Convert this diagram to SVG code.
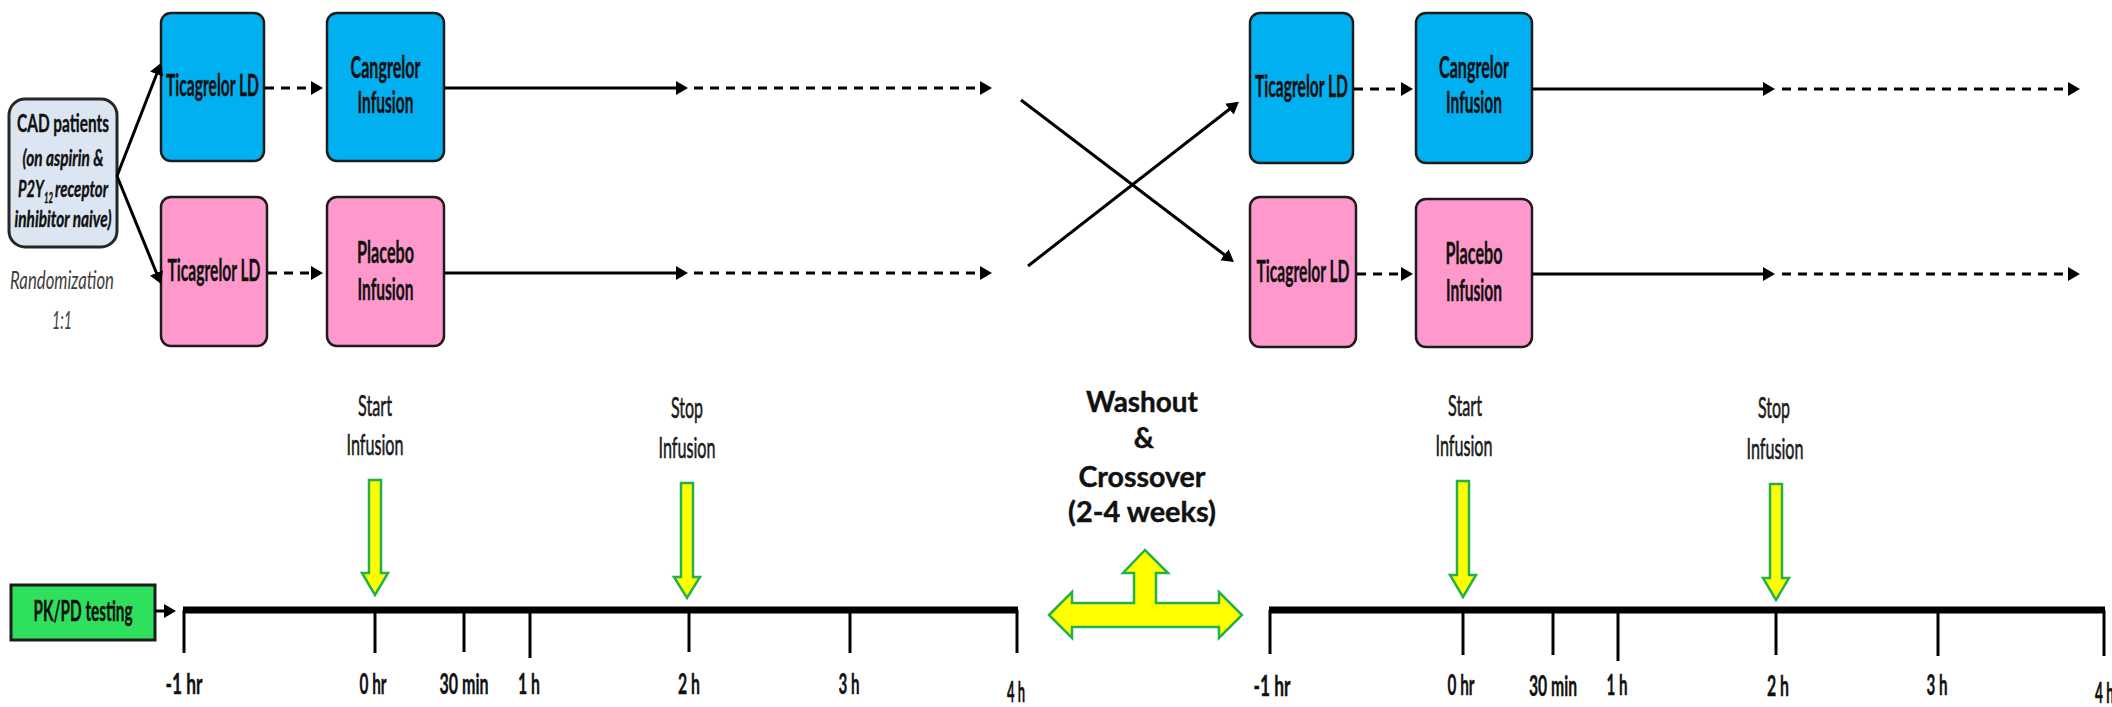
<svg xmlns="http://www.w3.org/2000/svg" width="2112" height="707" viewBox="0 0 2112 707">
  <style>
    .box { stroke: #1c1c1c; stroke-width: 2.5; }
    .blue { fill: #00b0f0; }
    .pink { fill: #ff99cc; }
    .lbl { font-family: Lato, "Liberation Sans", sans-serif; font-weight: bold; fill: #111; stroke: #111; stroke-width: 0.4; text-anchor: middle; }
    .reg { font-family: Lato, "Liberation Sans", sans-serif; font-weight: normal; fill: #1a1a1a; stroke: #1a1a1a; stroke-width: 0.6; text-anchor: middle; }
    .start { text-anchor: start; }
    .conn { stroke: #000; stroke-width: 3; fill: none; }
    .dash { stroke-dasharray: 9 7; }
    .axis { stroke: #000; stroke-width: 7; fill: none; }
    .tick { stroke: #000; stroke-width: 3; }
    .yellow { fill: #ffff00; stroke: #22b14c; stroke-width: 2.5; stroke-linejoin: miter; }
  </style>
  <defs>
    <marker id="head" viewBox="0 0 12 14" refX="2" refY="7" markerWidth="12" markerHeight="14" markerUnits="userSpaceOnUse" orient="auto">
      <path d="M0,0 L12,7 L0,14 z" fill="#000"/>
    </marker>
  </defs>

  <rect width="2112" height="707" fill="#fff"/>

  <!-- patient population -->
  <g id="cad-patients">
    <rect x="9" y="99" width="108" height="148" rx="16" fill="#dce6f2" stroke="#262626" stroke-width="3"/>
    <text class="lbl" x="63" y="132" font-size="25" textLength="92" lengthAdjust="spacingAndGlyphs">CAD patients</text>
    <text class="lbl" x="63" y="166" font-size="23" font-style="italic" textLength="81" lengthAdjust="spacingAndGlyphs">(on aspirin &amp;</text>
    <text class="lbl start" x="18" y="197" font-size="23" font-style="italic" textLength="26" lengthAdjust="spacingAndGlyphs">P2Y</text>
    <text class="lbl start" x="44" y="203" font-size="15" font-style="italic" textLength="9" lengthAdjust="spacingAndGlyphs">12</text>
    <text class="lbl start" x="55" y="197" font-size="23" font-style="italic" textLength="53" lengthAdjust="spacingAndGlyphs">receptor</text>
    <text class="lbl" x="63" y="227" font-size="23" font-style="italic" textLength="97" lengthAdjust="spacingAndGlyphs">inhibitor naive)</text>
  </g>
  <g id="randomization">
    <text class="reg" x="62" y="289" font-size="26" font-style="italic" textLength="104" lengthAdjust="spacingAndGlyphs" style="fill:#404040;stroke:none">Randomization</text>
    <text class="reg" x="62" y="329" font-size="26" font-style="italic" textLength="20" lengthAdjust="spacingAndGlyphs" style="fill:#404040;stroke:none">1:1</text>
  </g>

  <!-- period 1 treatment boxes -->
  <g id="p1-ticagrelor-a">
    <rect class="box blue" x="161" y="13" width="103" height="148" rx="10"/>
    <text class="lbl" x="212.5" y="96" font-size="30" textLength="93" lengthAdjust="spacingAndGlyphs">Ticagrelor LD</text>
  </g>
  <g id="p1-cangrelor">
    <rect class="box blue" x="327" y="13" width="117" height="148" rx="10"/>
    <text class="lbl" x="385.5" y="78" font-size="30" textLength="70" lengthAdjust="spacingAndGlyphs">Cangrelor</text>
    <text class="lbl" x="385.5" y="113" font-size="30" textLength="56" lengthAdjust="spacingAndGlyphs">Infusion</text>
  </g>
  <g id="p1-ticagrelor-b">
    <rect class="box pink" x="161" y="197" width="106" height="149" rx="10"/>
    <text class="lbl" x="214" y="281" font-size="30" textLength="93" lengthAdjust="spacingAndGlyphs">Ticagrelor LD</text>
  </g>
  <g id="p1-placebo">
    <rect class="box pink" x="327" y="197" width="117" height="149" rx="10"/>
    <text class="lbl" x="385.5" y="263" font-size="30" textLength="57" lengthAdjust="spacingAndGlyphs">Placebo</text>
    <text class="lbl" x="385.5" y="300" font-size="30" textLength="56" lengthAdjust="spacingAndGlyphs">Infusion</text>
  </g>

  <!-- period 2 treatment boxes -->
  <g id="p2-ticagrelor-a">
    <rect class="box blue" x="1250" y="13" width="103" height="150" rx="10"/>
    <text class="lbl" x="1301.5" y="97" font-size="30" textLength="93" lengthAdjust="spacingAndGlyphs">Ticagrelor LD</text>
  </g>
  <g id="p2-cangrelor">
    <rect class="box blue" x="1416" y="13" width="116" height="150" rx="10"/>
    <text class="lbl" x="1474" y="78" font-size="30" textLength="70" lengthAdjust="spacingAndGlyphs">Cangrelor</text>
    <text class="lbl" x="1474" y="113" font-size="30" textLength="56" lengthAdjust="spacingAndGlyphs">Infusion</text>
  </g>
  <g id="p2-ticagrelor-b">
    <rect class="box pink" x="1250" y="197" width="106" height="150" rx="10"/>
    <text class="lbl" x="1303" y="282" font-size="30" textLength="93" lengthAdjust="spacingAndGlyphs">Ticagrelor LD</text>
  </g>
  <g id="p2-placebo">
    <rect class="box pink" x="1416" y="199" width="116" height="148" rx="10"/>
    <text class="lbl" x="1474" y="264" font-size="30" textLength="57" lengthAdjust="spacingAndGlyphs">Placebo</text>
    <text class="lbl" x="1474" y="301" font-size="30" textLength="56" lengthAdjust="spacingAndGlyphs">Infusion</text>
  </g>

  <!-- PK/PD testing -->
  <g id="pkpd">
    <rect x="11" y="585" width="144" height="55" fill="#2ee05c" stroke="#1c1c1c" stroke-width="3"/>
    <text class="lbl" x="83" y="621" font-size="28" textLength="99" lengthAdjust="spacingAndGlyphs">PK/PD testing</text>
  </g>

  <!-- connectors -->
  <g id="connectors">
    <line class="conn" x1="117" y1="176" x2="157.4" y2="72.3" marker-end="url(#head)"/>
    <line class="conn" x1="117" y1="176" x2="157.2" y2="274.7" marker-end="url(#head)"/>

    <line class="conn dash" x1="265" y1="88" x2="313" y2="88" marker-end="url(#head)"/>
    <line class="conn" x1="444" y1="88" x2="678" y2="88" marker-end="url(#head)"/>
    <line class="conn dash" x1="694" y1="88" x2="982" y2="88" marker-end="url(#head)"/>

    <line class="conn dash" x1="268" y1="273" x2="313" y2="273" marker-end="url(#head)"/>
    <line class="conn" x1="444" y1="273" x2="678" y2="273" marker-end="url(#head)"/>
    <line class="conn dash" x1="694" y1="273" x2="982" y2="273" marker-end="url(#head)"/>

    <line class="conn" x1="1021" y1="100" x2="1226" y2="256" marker-end="url(#head)"/>
    <line class="conn" x1="1028" y1="266" x2="1231" y2="108" marker-end="url(#head)"/>

    <line class="conn dash" x1="1354" y1="89" x2="1403" y2="89" marker-end="url(#head)"/>
    <line class="conn" x1="1532" y1="89" x2="1765" y2="89" marker-end="url(#head)"/>
    <line class="conn dash" x1="1782" y1="89" x2="2070" y2="89" marker-end="url(#head)"/>

    <line class="conn dash" x1="1357" y1="274" x2="1403" y2="274" marker-end="url(#head)"/>
    <line class="conn" x1="1532" y1="274" x2="1765" y2="274" marker-end="url(#head)"/>
    <line class="conn dash" x1="1782" y1="274" x2="2070" y2="274" marker-end="url(#head)"/>

    <line class="conn" x1="155" y1="611" x2="166" y2="611" marker-end="url(#head)"/>
  </g>

  <!-- period 1 timeline -->
  <g id="timeline-1">
    <line class="axis" x1="183" y1="610" x2="1018" y2="610"/>
    <line class="tick" x1="184" y1="610" x2="184" y2="653"/>
    <line class="tick" x1="375" y1="610" x2="375" y2="653"/>
    <line class="tick" x1="464" y1="610" x2="464" y2="652"/>
    <line class="tick" x1="530" y1="610" x2="530" y2="658"/>
    <line class="tick" x1="689" y1="610" x2="689" y2="652"/>
    <line class="tick" x1="850" y1="610" x2="850" y2="653"/>
    <line class="tick" x1="1017" y1="610" x2="1017" y2="653"/>
    <text class="lbl" x="184" y="694" font-size="28" textLength="37" lengthAdjust="spacingAndGlyphs">-1 hr</text>
    <text class="lbl" x="373" y="694" font-size="28" textLength="27" lengthAdjust="spacingAndGlyphs">0 hr</text>
    <text class="lbl" x="464" y="694" font-size="28" textLength="49" lengthAdjust="spacingAndGlyphs">30 min</text>
    <text class="lbl" x="529" y="694" font-size="28" textLength="22" lengthAdjust="spacingAndGlyphs">1 h</text>
    <text class="lbl" x="689" y="694" font-size="28" textLength="22" lengthAdjust="spacingAndGlyphs">2 h</text>
    <text class="lbl" x="849" y="694" font-size="28" textLength="21" lengthAdjust="spacingAndGlyphs">3 h</text>
    <text class="lbl" x="1016" y="702" font-size="28" textLength="18" lengthAdjust="spacingAndGlyphs">4 h</text>
  </g>

  <!-- period 2 timeline -->
  <g id="timeline-2">
    <line class="axis" x1="1269" y1="610" x2="2105" y2="610"/>
    <line class="tick" x1="1270" y1="610" x2="1270" y2="654"/>
    <line class="tick" x1="1463" y1="610" x2="1463" y2="655"/>
    <line class="tick" x1="1553" y1="610" x2="1553" y2="655"/>
    <line class="tick" x1="1618" y1="610" x2="1618" y2="661"/>
    <line class="tick" x1="1776" y1="610" x2="1776" y2="655"/>
    <line class="tick" x1="1938" y1="610" x2="1938" y2="656"/>
    <line class="tick" x1="2104" y1="610" x2="2104" y2="656"/>
    <text class="lbl" x="1272" y="696" font-size="28" textLength="37" lengthAdjust="spacingAndGlyphs">-1 hr</text>
    <text class="lbl" x="1461" y="695" font-size="28" textLength="27" lengthAdjust="spacingAndGlyphs">0 hr</text>
    <text class="lbl" x="1553" y="696" font-size="28" textLength="48" lengthAdjust="spacingAndGlyphs">30 min</text>
    <text class="lbl" x="1617" y="695" font-size="28" textLength="21" lengthAdjust="spacingAndGlyphs">1 h</text>
    <text class="lbl" x="1778" y="696" font-size="28" textLength="22" lengthAdjust="spacingAndGlyphs">2 h</text>
    <text class="lbl" x="1937" y="695" font-size="28" textLength="21" lengthAdjust="spacingAndGlyphs">3 h</text>
    <text class="lbl start" x="2095" y="703" font-size="28" textLength="19" lengthAdjust="spacingAndGlyphs">4 h</text>
  </g>

  <!-- infusion markers -->
  <g id="start-1">
    <text class="reg" x="375" y="416" font-size="29" textLength="34" lengthAdjust="spacingAndGlyphs">Start</text>
    <text class="reg" x="375" y="455" font-size="29" textLength="57" lengthAdjust="spacingAndGlyphs">Infusion</text>
    <polygon class="yellow" points="369,480 381,480 381,573 388,573 375,595 362,573 369,573"/>
  </g>
  <g id="stop-1">
    <text class="reg" x="687" y="418" font-size="29" textLength="32" lengthAdjust="spacingAndGlyphs">Stop</text>
    <text class="reg" x="687" y="458" font-size="29" textLength="57" lengthAdjust="spacingAndGlyphs">Infusion</text>
    <polygon class="yellow" points="681,483 693,483 693,577 700,577 687,598 674,577 681,577"/>
  </g>
  <g id="start-2">
    <text class="reg" x="1465" y="416" font-size="29" textLength="34" lengthAdjust="spacingAndGlyphs">Start</text>
    <text class="reg" x="1464" y="456" font-size="29" textLength="57" lengthAdjust="spacingAndGlyphs">Infusion</text>
    <polygon class="yellow" points="1457,481 1469,481 1469,575 1476,575 1463,597 1450,575 1457,575"/>
  </g>
  <g id="stop-2">
    <text class="reg" x="1774" y="418" font-size="29" textLength="32" lengthAdjust="spacingAndGlyphs">Stop</text>
    <text class="reg" x="1775" y="459" font-size="29" textLength="57" lengthAdjust="spacingAndGlyphs">Infusion</text>
    <polygon class="yellow" points="1770,484 1782,484 1782,578 1789,578 1776,600 1763,578 1770,578"/>
  </g>

  <!-- washout and crossover -->
  <g id="washout">
    <text class="lbl" x="1142" y="412" font-size="28" textLength="112" lengthAdjust="spacingAndGlyphs">Washout</text>
    <text class="lbl" x="1144" y="448" font-size="28">&amp;</text>
    <text class="lbl" x="1142" y="487" font-size="28" textLength="127" lengthAdjust="spacingAndGlyphs">Crossover</text>
    <text class="lbl" x="1142" y="522" font-size="28" textLength="148" lengthAdjust="spacingAndGlyphs">(2-4 weeks)</text>
    <polygon class="yellow" stroke-width="3" points="1049,615 1072,592 1072,603 1134,603 1134,573 1123,573 1145,550 1168,573 1156,573 1156,603 1219,603 1219,592 1242,615 1219,638 1219,627 1072,627 1072,638"/>
  </g>
</svg>
